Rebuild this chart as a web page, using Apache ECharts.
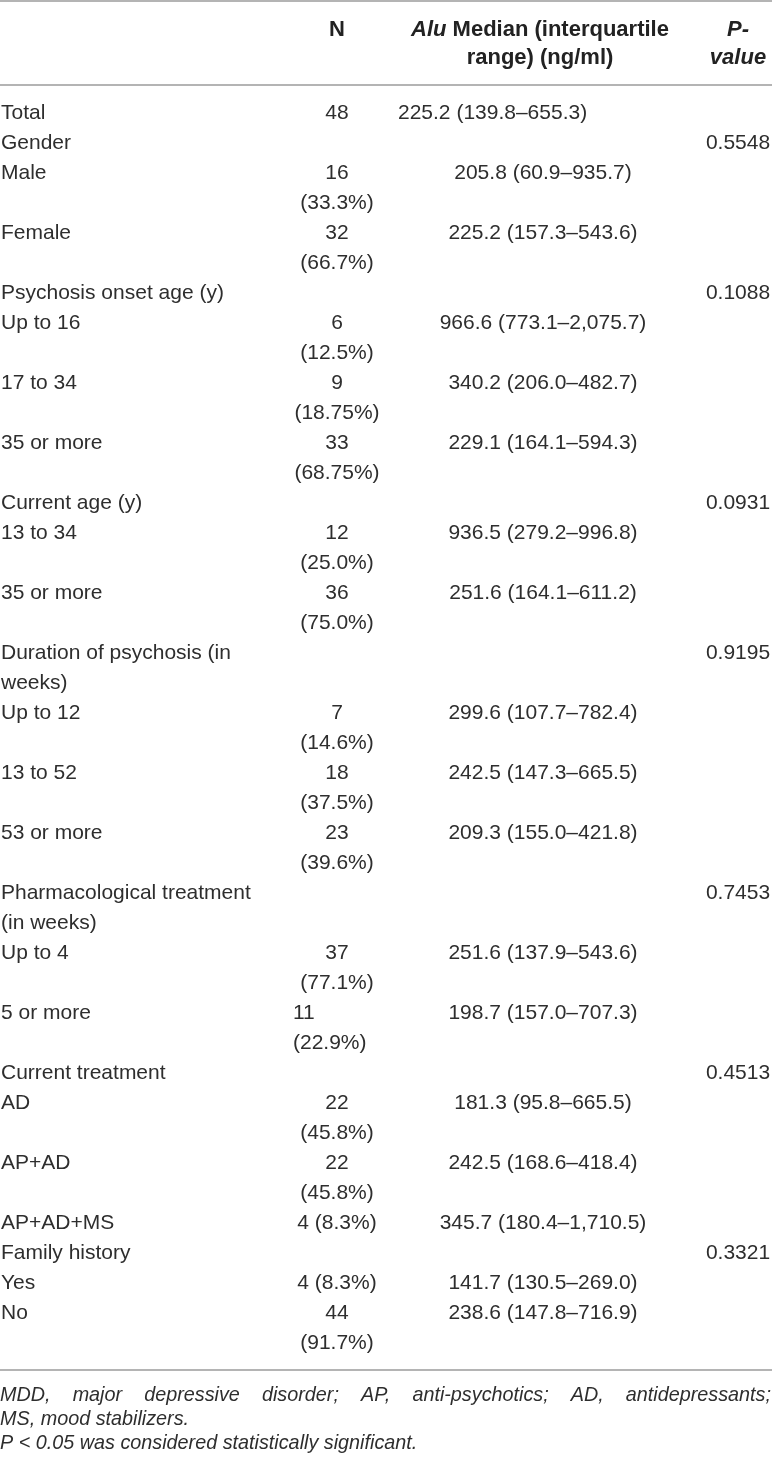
<!DOCTYPE html>
<html>
<head>
<meta charset="utf-8">
<script src="https://cdn.jsdelivr.net/npm/echarts@6.0.0/dist/echarts.min.js"></script>
<style>
html, body { margin: 0; padding: 0; background: #fff; }
#main { width: 772px; height: 1460px; }
</style>
</head>
<body>
<div id="main"></div>
<script>
// table data
var rowLabels = ['Total', 'Gender', 'Male', 'Female', 'Psychosis onset age (y)', 'Up to 16', '17 to 34', '35 or more',
	'Current age (y)', '13 to 34', '35 or more', 'Duration of psychosis (in weeks)', 'Up to 12', '13 to 52', '53 or more',
	'Pharmacological treatment (in weeks)', 'Up to 4', '5 or more', 'Current treatment', 'AD', 'AP+AD', 'AP+AD+MS',
	'Family history', 'Yes', 'No'];
var nCount = ['48', '', '16', '32', '', '6', '9', '33', '', '12', '36', '', '7', '18', '23', '', '37', '11', '', '22', '22', '4', '', '4', '44'];
var nPercent = ['', '', '33.3', '66.7', '', '12.5', '18.75', '68.75', '', '25.0', '75.0', '', '14.6', '37.5', '39.6', '', '77.1', '22.9', '',
	'45.8', '45.8', '8.3', '', '8.3', '91.7'];
var medianVal = [225.2, null, 205.8, 225.2, null, 966.6, 340.2, 229.1, null, 936.5, 251.6, null, 299.6, 242.5, 209.3, null,
	251.6, 198.7, null, 181.3, 242.5, 345.7, null, 141.7, 238.6];
var iqrLow = [139.8, null, 60.9, 157.3, null, 773.1, 206.0, 164.1, null, 279.2, 164.1, null, 107.7, 147.3, 155.0, null,
	137.9, 157.0, null, 95.8, 168.6, 180.4, null, 130.5, 147.8];
var iqrHigh = [655.3, null, 935.7, 543.6, null, 2075.7, 482.7, 594.3, null, 996.8, 611.2, null, 782.4, 665.5, 421.8, null,
	543.6, 707.3, null, 665.5, 418.4, 1710.5, null, 269.0, 716.9];
var pValue = [null, 0.5548, null, null, 0.1088, null, null, null, 0.0931, null, null, 0.9195, null, null, null, 0.7453,
	null, null, 0.4513, null, null, null, 0.3321, null, null];
var footNotes = ['MDD, major depressive disorder; AP, anti-psychotics; AD, antidepressants;',
	'MS, mood stabilizers.',
	'P < 0.05 was considered statistically significant.'];

// layout / style
var FAMILY = '"Liberation Sans", Arial, sans-serif';
var FS = 21, LH = 30, INK = '#2e2e2e', RULE = '#9b9b9b';
var LABEL_X = 1, LABEL_W = 268, N_X = 337, N_W = 84, MED_X = 543, P_X = 738;
var FIRST_TOP = 98;
// cells that the source set flush left instead of centred
var nLeft = { 17: 293 };
var medLeft = { 0: 398 };

var ctx = document.createElement('canvas').getContext('2d');

function wrap(str, maxW, font) {
	if(!str) return [];
	ctx.font = font;
	var words = str.split(' '), lines = [], cur = '';
	for(var i = 0; i < words.length; i++) {
		var test = cur ? cur + ' ' + words[i] : words[i];
		if(cur && ctx.measureText(test).width > maxW) {
			lines.push(cur);
			cur = words[i];
		} else {
			cur = test;
		}
	}
	lines.push(cur);
	return lines;
}

function fmt1(v) {
	return v.toLocaleString('en-US', { minimumFractionDigits: 1, maximumFractionDigits: 1 });
}

function cell(x, y, str, align) {
	return {
		type: 'text',
		x: x,
		y: y,
		style: {
			text: str,
			fontFamily: FAMILY,
			fontSize: FS,
			fill: INK,
			align: align,
			verticalAlign: 'top',
			lineHeight: LH
		}
	};
}

var els = [];
var bodyFont = FS + 'px ' + FAMILY;

// rules
function rule(y) {
	return { type: 'line', shape: { x1: 0, y1: y, x2: 772, y2: y }, style: { stroke: RULE, lineWidth: 1.5 } };
}
els.push(rule(1));
els.push(rule(85));

// header
var HFS = 22;
var headRich = {
	b: { fontFamily: FAMILY, fontSize: HFS, fontWeight: 'bold', fill: '#222', lineHeight: 28 },
	bi: { fontFamily: FAMILY, fontSize: HFS, fontWeight: 'bold', fontStyle: 'italic', fill: '#222', lineHeight: 28 }
};
function head(x, str) {
	return {
		type: 'text', x: x, y: 16,
		style: { text: str, rich: headRich, align: 'center', verticalAlign: 'top', fill: '#222', fontFamily: FAMILY, fontSize: HFS, fontWeight: 'bold', lineHeight: 28 }
	};
}
els.push(head(N_X, '{b|N}'));
els.push(head(540, '{bi|Alu}{b| Median (interquartile}\n{b|range) (ng/ml)}'));
els.push(head(P_X, '{bi|P-}\n{bi|value}'));

// body rows
var rowTop = FIRST_TOP;
for(var i = 0; i < rowLabels.length; i++) {
	var labelLines = wrap(rowLabels[i], LABEL_W, bodyFont);
	var nText = nCount[i] ? (nPercent[i] ? nCount[i] + ' (' + nPercent[i] + '%)' : nCount[i]) : '';
	var nLines = wrap(nText, N_W, bodyFont);
	els.push(cell(LABEL_X, rowTop, labelLines.join('\n'), 'left'));
	if(nLines.length) {
		if(nLeft[i] != null) els.push(cell(nLeft[i], rowTop, nLines.join('\n'), 'left'));
		else els.push(cell(N_X, rowTop, nLines.join('\n'), 'center'));
	}
	if(medianVal[i] != null) {
		var medText = fmt1(medianVal[i]) + ' (' + fmt1(iqrLow[i]) + '\u2013' + fmt1(iqrHigh[i]) + ')';
		if(medLeft[i] != null) els.push(cell(medLeft[i], rowTop, medText, 'left'));
		else els.push(cell(MED_X, rowTop, medText, 'center'));
	}
	if(pValue[i] != null) {
		els.push(cell(P_X, rowTop, pValue[i].toFixed(4), 'center'));
	}
	rowTop += Math.max(labelLines.length, nLines.length, 1) * LH;
}
els.push(rule(rowTop + 12));

// footnotes (first line justified)
var FOOT_FS = 19.8;
var footFont = 'italic ' + FOOT_FS + 'px ' + FAMILY;
function foot(x, y, str) {
	return {
		type: 'text', x: x, y: y,
		style: { text: str, fontFamily: FAMILY, fontSize: FOOT_FS, fontStyle: 'italic', fill: INK, align: 'left', verticalAlign: 'middle' }
	};
}
var footY = rowTop + 37;
ctx.font = footFont;
var words = footNotes[0].split(' ');
var widths = words.map(function(w) { return ctx.measureText(w).width; });
var sum = widths.reduce(function(a, b) { return a + b; }, 0);
var gap = (771 - sum) / (words.length - 1);
var fx = 0;
for(var w = 0; w < words.length; w++) {
	els.push(foot(fx, footY, words[w]));
	fx += widths[w] + gap;
}
els.push(foot(0, footY + 24, footNotes[1]));
els.push(foot(0, footY + 48, footNotes[2]));

var chart = echarts.init(document.getElementById('main'));
chart.setOption({
	backgroundColor: '#fff',
	animation: false,
	graphic: els
});
window.onresize = function() {
	chart.resize();
};
</script>
</body>
</html>
